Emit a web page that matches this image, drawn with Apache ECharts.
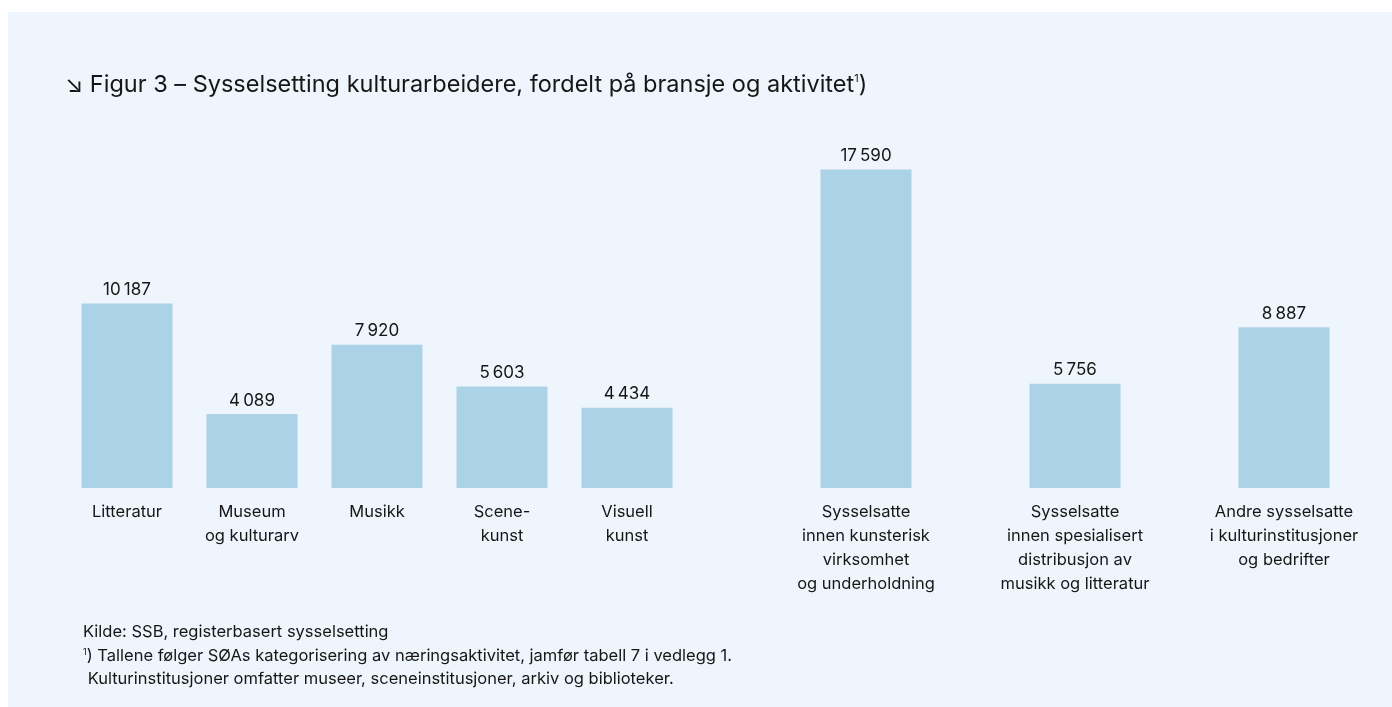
<!DOCTYPE html>
<html>
<head>
<meta charset="utf-8">
<script src="https://cdn.jsdelivr.net/npm/echarts@6/dist/echarts.min.js"></script>
</head>
<body style="margin:0;background:#ffffff">
<div id="container" style="width:1392px;height:707px"></div>
<script type="text/javascript">
// bransjer (venstre gruppe)
var bransjer = ['Litteratur', 'Museum\nog kulturarv', 'Musikk', 'Scene-\nkunst', 'Visuell\nkunst'];
var bransjeVerdier = [10187, 4089, 7920, 5603, 4434];

// aktiviteter (høyre gruppe)
var aktiviteter = [
  'Sysselsatte\ninnen kunsterisk\nvirksomhet\nog underholdning',
  'Sysselsatte\ninnen spesialisert\ndistribusjon av\nmusikk og litteratur',
  'Andre sysselsatte\ni kulturinstitusjoner\nog bedrifter'
];
var aktivitetVerdier = [17590, 5756, 8887];

var fotnoter = [
  'Kilde: SSB, registerbasert sysselsetting',
  '{sup|1}) Tallene følger SØAs kategorisering av næringsaktivitet, jamfør tabell 7 i vedlegg 1.',
  ' Kulturinstitusjoner omfatter museer, sceneinstitusjoner, arkiv og biblioteker.'
];

var font = 'Inter, "Noto Sans", sans-serif';
var barColor = '#acd2e8';
var textColor = '#161616';

function fmt(p) {
  return String(p.value).replace(/\B(?=(\d{3})+(?!\d))/g, '\u2009');
}

var dom = document.getElementById('container');
var myChart = echarts.init(dom);

function xAx(idx, cats) {
  return {
    type: 'category', gridIndex: idx, data: cats,
    axisLine: { show: false }, axisTick: { show: false },
    axisLabel: { interval: 0, margin: 12, color: textColor, fontFamily: font, fontSize: 16.5, lineHeight: 24, verticalAlign: 'top' }
  };
}
function yAx(idx) {
  return { type: 'value', gridIndex: idx, min: 0, max: 20000, show: false, splitLine: { show: false } };
}
function bars(idx, vals) {
  return {
    type: 'bar', xAxisIndex: idx, yAxisIndex: idx, data: vals, barWidth: 91,
    itemStyle: { color: barColor }, silent: true,
    label: { show: true, position: 'top', distance: 5, formatter: fmt, color: textColor, fontFamily: font, fontSize: 17 }
  };
}

var footGraphics = fotnoter.map(function (t, i) {
  return {
    type: 'text', left: 83, top: 624 + i * 23.5,
    style: {
      text: t, fill: textColor, font: '16.5px ' + font,
      rich: { sup: { fontSize: 9, verticalAlign: 'top', lineHeight: 16, fill: textColor, fontFamily: font } }
    }
  };
});

var option = {
  animation: false,
  backgroundColor: '#ffffff',
  graphic: [
    { type: 'rect', z: -10, shape: { x: 8, y: 12, width: 1384, height: 695 }, style: { fill: '#eef5fc' } }
  ].concat(footGraphics),
  title: {
    left: 60, top: 68,
    text: '↘ Figur 3 – Sysselsetting kulturarbeidere, fordelt på bransje og aktivitet{sup|1})',
    textStyle: {
      color: textColor, fontFamily: font, fontSize: 23.5, fontWeight: 'normal',
      rich: { sup: { fontSize: 11, verticalAlign: 'top', lineHeight: 22, color: textColor, fontFamily: font } }
    }
  },
  grid: [
    { left: 64.5, width: 625, top: 126, height: 362 },
    { left: 761.5, width: 627, top: 126, height: 362 }
  ],
  xAxis: [xAx(0, bransjer), xAx(1, aktiviteter)],
  yAxis: [yAx(0), yAx(1)],
  series: [bars(0, bransjeVerdier), bars(1, aktivitetVerdier)]
};

myChart.setOption(option);
</script>
</body>
</html>
